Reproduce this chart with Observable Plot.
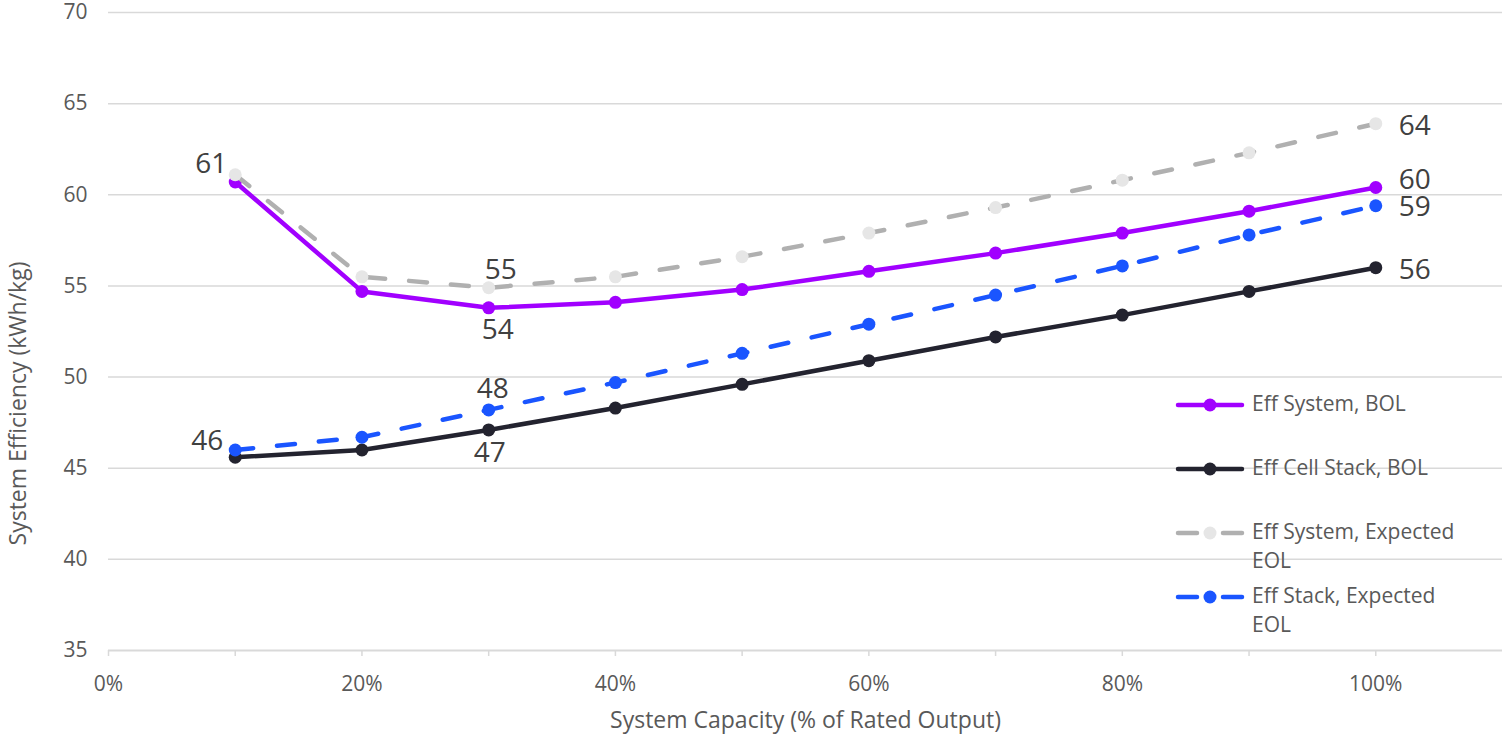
<!DOCTYPE html>
<html>
<head>
<meta charset="utf-8">
<script src="https://cdn.jsdelivr.net/npm/d3@7"></script>
<script src="https://cdn.jsdelivr.net/npm/@observablehq/plot@0.6"></script>
<style>
  body { margin: 0; background: #fff; font-family: "Open Sans", sans-serif; }
  #wrap { position: relative; width: 1502px; height: 735px; overflow: hidden; }
  #legend { position: absolute; left: 1175px; top: 390px; font-size: 21px; color: #595959; line-height: 29px; }
  .row { position: absolute; left: 0; white-space: nowrap; }
  .row svg { position: absolute; left: 0; top: 7px; }
  .row .lbl { position: absolute; left: 77px; top: -1px; }
</style>
</head>
<body>
<div id="wrap"><div id="legend"></div></div>
<script>
// ---- data ----
const capacity = [0.1, 0.2, 0.3, 0.4, 0.5, 0.6, 0.7, 0.8, 0.9, 1.0];
const effSystemBOL    = [60.7, 54.7, 53.8, 54.1, 54.8, 55.8, 56.8, 57.9, 59.1, 60.4];
const effCellStackBOL = [45.6, 46.0, 47.1, 48.3, 49.6, 50.9, 52.2, 53.4, 54.7, 56.0];
const effSystemEOL    = [61.1, 55.5, 54.9, 55.5, 56.6, 57.9, 59.3, 60.8, 62.3, 63.9];
const effStackEOL     = [46.0, 46.7, 48.2, 49.7, 51.3, 52.9, 54.5, 56.1, 57.8, 59.4];
const seriesNames = ["Eff System, BOL", "Eff Cell Stack, BOL", "Eff System, Expected EOL", "Eff Stack, Expected EOL"];
const legendLabels = ["Eff System, BOL", "Eff Cell Stack, BOL", "Eff System, Expected<br>EOL", "Eff Stack, Expected<br>EOL"];
const yTicks = [35, 40, 45, 50, 55, 60, 65, 70];
const xTicks = [0, 0.1, 0.2, 0.3, 0.4, 0.5, 0.6, 0.7, 0.8, 0.9, 1.0];
const xTitle = "System Capacity (% of Rated Output)";
const yTitle = "System Efficiency (kWh/kg)";

// ---- styles ----
const seriesValues = [effSystemBOL, effCellStackBOL, effSystemEOL, effStackEOL];
const styles = [
  {line: "#a100ff", marker: "#a100ff", dash: null},
  {line: "#23232f", marker: "#23232f", dash: null},
  {line: "#b0b0b0", marker: "#e6e6e6", dash: "18,24"},
  {line: "#1a55ff", marker: "#1a55ff", dash: "18,24"}
];

const rows = [];
seriesNames.forEach((s, i) => capacity.forEach((c, j) => rows.push({series: s, si: i, j, x: c, y: seriesValues[i][j]})));

// data labels: which points, and placement
const labelSpecs = [
  {si: 2, j: 0, dx: -8, dy: -11, anchor: "end"},
  {si: 2, j: 2, dx: 12, dy: -18, anchor: "middle"},
  {si: 0, j: 2, dx: 9, dy: 22, anchor: "middle"},
  {si: 3, j: 2, dx: 4, dy: -21, anchor: "middle"},
  {si: 1, j: 2, dx: 1, dy: 23, anchor: "middle"},
  {si: 3, j: 0, dx: -12, dy: -9, anchor: "end"},
  {si: 2, j: 9, dx: 23, dy: 2, anchor: "start"},
  {si: 0, j: 9, dx: 23, dy: -7, anchor: "start"},
  {si: 3, j: 9, dx: 23, dy: 1, anchor: "start"},
  {si: 1, j: 9, dx: 23, dy: 2, anchor: "start"}
];

const marks = [
  Plot.gridY(yTicks.filter(t => t > 35), {stroke: "#d9d9d9", strokeOpacity: 1, strokeWidth: 1.5}),
  Plot.ruleY([35], {stroke: "#d9d9d9", strokeWidth: 2}),
  Plot.axisX({ticks: xTicks, tickSize: 6, tickPadding: 20, stroke: "#d9d9d9", strokeWidth: 1.5, fill: "#595959", fontSize: 21,
    tickFormat: d => (Math.round(d * 100) % 20 === 0 ? Math.round(d * 100) + "%" : ""), label: null}),
  Plot.axisY({ticks: yTicks, tickSize: 0, tickPadding: 21, fill: "#595959", fontSize: 21, label: null}),
  Plot.text([xTitle], {frameAnchor: "bottom", lineAnchor: "middle", textAnchor: "middle", dy: 70, fontSize: 23, fill: "#595959"}),
  Plot.text([yTitle], {frameAnchor: "left", lineAnchor: "middle", textAnchor: "middle", rotate: -90, dx: -90, dy: 72, fontSize: 23, fill: "#595959"})
];

seriesNames.forEach((s, i) => {
  const d = rows.filter(r => r.si === i);
  const st = styles[i];
  marks.push(Plot.line(d, {x: "x", y: "y", stroke: st.line, strokeWidth: 4.5,
    strokeDasharray: st.dash || undefined, strokeLinecap: "round", strokeLinejoin: "round"}));
  marks.push(Plot.dot(d, {x: "x", y: "y", r: 6.5, fill: st.marker, stroke: "none"}));
});

labelSpecs.forEach(sp => {
  const d = rows.filter(r => r.si === sp.si && r.j === sp.j);
  marks.push(Plot.text(d, {x: "x", y: "y", text: r => String(Math.round(r.y)), dx: sp.dx, dy: sp.dy,
    textAnchor: sp.anchor, fontSize: 28, fill: "#404040"}));
});

const chart = Plot.plot({
  width: 1502,
  height: 735,
  marginLeft: 108,
  marginRight: 0,
  marginTop: 12,
  marginBottom: 85,
  style: {fontFamily: "'Open Sans', sans-serif", background: "#fff", overflow: "visible"},
  x: {domain: [0, 1.1]},
  y: {domain: [35, 70]},
  marks
});
document.getElementById("wrap").prepend(chart);

// legend overlay
const legend = document.getElementById("legend");
seriesNames.forEach((s, i) => {
  const st = styles[i];
  const row = document.createElement("div");
  row.className = "row";
  row.style.top = (i * 64) + "px";
  const segs = st.dash
    ? `<line x1="3" y1="8" x2="22" y2="8" stroke="${st.line}" stroke-width="4.5" stroke-linecap="round"/>
       <line x1="48" y1="8" x2="67" y2="8" stroke="${st.line}" stroke-width="4.5" stroke-linecap="round"/>`
    : `<line x1="3" y1="8" x2="67" y2="8" stroke="${st.line}" stroke-width="4.5" stroke-linecap="round"/>`;
  row.innerHTML = `<svg width="72" height="16">${segs}<circle cx="35" cy="8" r="6.5" fill="${st.marker}"/></svg><span class="lbl">${legendLabels[i]}</span>`;
  legend.appendChild(row);
});
</script>
</body>
</html>
